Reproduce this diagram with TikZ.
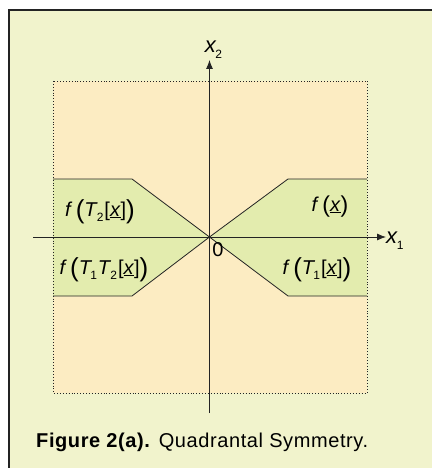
\documentclass[tikz,border=0pt]{standalone}
\usepackage{fontspec}
\setmainfont{Liberation Sans}
\usetikzlibrary{arrows.meta, positioning}
\definecolor{panelbg}{RGB}{241,243,204}
\definecolor{regionbg}{RGB}{252,236,194}
\definecolor{bandgreen}{RGB}{227,236,174}
\definecolor{inkgray}{RGB}{35,35,35}
\newcommand{\bigpar}[1]{{\fontsize{26}{26}\selectfont\raisebox{-0.1em}{#1}}}
\newcommand{\midpar}[1]{{\fontsize{23}{23}\selectfont\raisebox{-0.08em}{#1}}}
\newcommand{\lowsub}[1]{\raisebox{-0.28em}{\fontsize{12}{12}\selectfont#1}}

\begin{document}
\begin{tikzpicture}[x=1pt, y=-1pt,
    every node/.style={font=\fontsize{20}{22}\selectfont, inner sep=0pt},
    axis/.style={draw=inkgray, line width=0.8pt},
    edge/.style={draw=inkgray, line width=0.8pt},
    limit/.style={draw=inkgray, line width=0.9pt, dotted},
    lbl/.style={anchor=center},
    axlbl/.style={font=\fontsize{22}{23}\selectfont}
  ]
  % canvas and panel
  \useasboundingbox (0,0) rectangle (432,468);
  \fill[panelbg] (9,10) rectangle (432,468);
  \draw[inkgray, line width=1.2pt] (9,468) -- (9,10) -- (432,10);

  % region and bands
  \coordinate (o) at (209.5,237);
  \fill[regionbg] (53,81) rectangle (367,393);
  \fill[bandgreen] (53,179) -- (132,179) -- (o) -- (132,296) -- (53,296) -- cycle;
  \fill[bandgreen] (367,179) -- (288,179) -- (o) -- (288,296) -- (367,296) -- cycle;
  \draw[edge] (53,179) -- (132,179) -- (o) -- (132,296) -- (53,296);
  \draw[edge] (367,179) -- (288,179) -- (o) -- (288,296) -- (367,296);
  \draw[limit] (53,81) rectangle (367,393);

  % axes
  \coordinate (xstart) at (33,237);
  \coordinate (xend) at (386,237);
  \coordinate (ystart) at (209.5,413);
  \coordinate (yend) at (209.5,60);
  \draw[axis, -{Latex[length=9pt, width=7pt]}] (xstart) -- (xend);
  \draw[axis, -{Latex[length=9pt, width=7pt]}] (ystart) -- (yend);
  \node[axlbl, right=0pt of xend, yshift=-4pt] (xlabel) {\textit{x}\kern-1pt\lowsub{1}};
  \node[axlbl, above=1pt of yend, xshift=4pt] (ylabel) {\textit{x}\kern-1pt\lowsub{2}};
  \node[font=\fontsize{20}{21}\selectfont] (zero) at (218,250) {0};

  % labels
  \node[lbl] (fx) at (330,207) {\textit{f}\,\midpar{(}\underline{\textit{x}}\midpar{)}};
  \node[lbl] (ftwo) at (100,212) {\textit{f}\,\bigpar{(}\textit{T}\kern-1pt\lowsub{2}\kern1pt[\underline{\textit{x}}]\bigpar{)}};
  \node[lbl] (fonetwo) at (104,270) {\textit{f}\,\bigpar{(}\textit{T}\kern-2pt\lowsub{1}\kern1pt\textit{T}\kern-1pt\lowsub{2}\kern1pt[\underline{\textit{x}}]\bigpar{)}};
  \node[lbl] (fone) at (317,270) {\textit{f}\,\bigpar{(}\textit{T}\kern-2pt\lowsub{1}\kern1pt[\underline{\textit{x}}]\bigpar{)}};

  % caption
  \node[anchor=base west, font=\fontsize{20}{22}\selectfont\addfontfeatures{LetterSpace=3}] (caption) at (36,447)
    {\textbf{Figure 2(a).} Quadrantal Symmetry.};
\end{tikzpicture}
\end{document}
